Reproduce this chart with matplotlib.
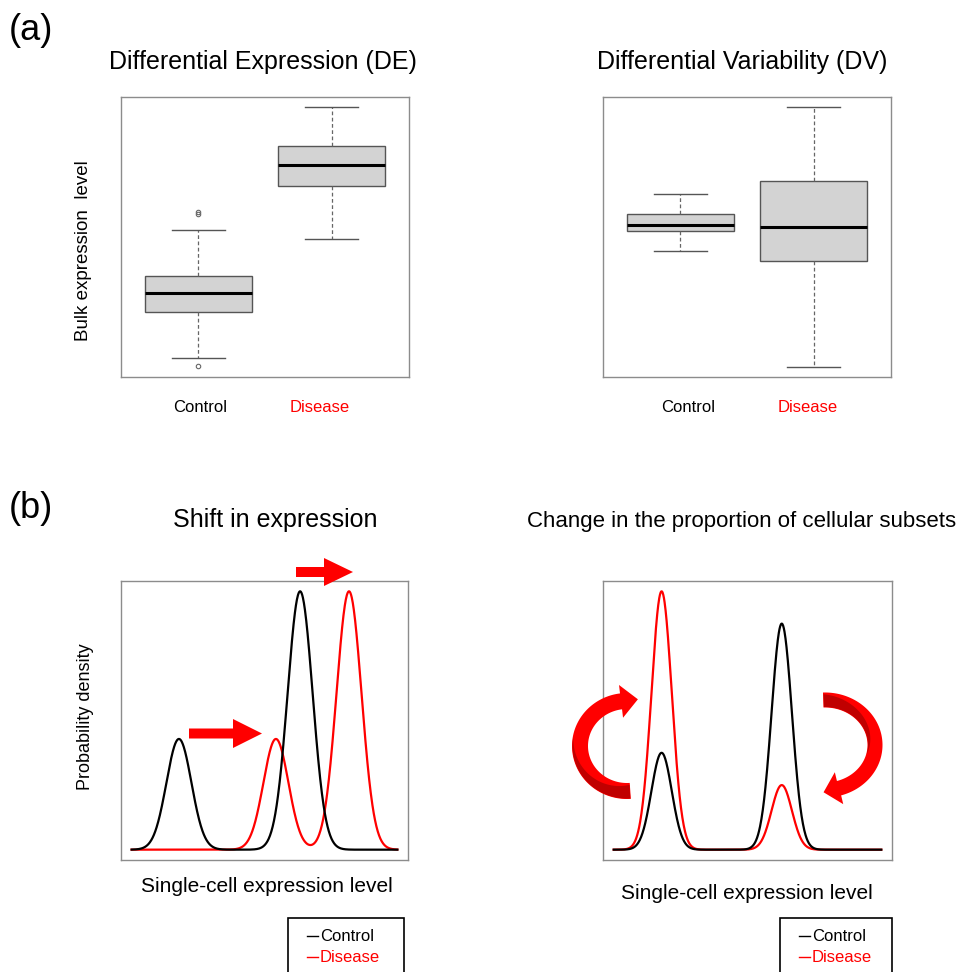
import numpy as np
import matplotlib
matplotlib.use("Agg")
import matplotlib.pyplot as plt
from matplotlib.patches import Polygon, FancyArrow, Rectangle

plt.rcParams['font.family'] = ['Liberation Sans', 'DejaVu Sans']

W, H = 957, 972

# ---------------- data ----------------
groups = ["Control", "Disease"]
group_colors = ["black", "red"]

# (a) DE boxplot stats: whislo, q1, med, q3, whishi, fliers
de_stats = [
    dict(whislo=0.68, q1=2.32, med=3.00, q3=3.61, whishi=5.25, fliers=[5.89, 5.82, 0.39]),
    dict(whislo=4.93, q1=6.82, med=7.57, q3=8.25, whishi=9.64, fliers=[]),
]
# (a) DV boxplot stats
dv_stats = [
    dict(whislo=4.50, q1=5.21, med=5.43, q3=5.82, whishi=6.54, fliers=[]),
    dict(whislo=0.36, q1=4.14, med=5.36, q3=7.00, whishi=9.64, fliers=[]),
]

# (b) mixture components: means, weights, sd
shift_ctrl_means = [1.78, 6.34]
shift_ctrl_weights = [0.3, 0.7]
shift_dis_means = [5.43, 8.18]
shift_dis_weights = [0.3, 0.7]
shift_sd = 0.47

prop_ctrl_means = [1.79, 6.28]
prop_ctrl_weights = [0.3, 0.7]
prop_dis_means = [1.79, 6.28]
prop_dis_weights = [0.8, 0.2]
prop_sd = 0.38


def px_rect(x0, y0, x1, y1):
    return [x0 / W, 1 - y1 / H, (x1 - x0) / W, (y1 - y0) / H]


fig = plt.figure(figsize=(W / 100, H / 100), dpi=100)

FRAME = '#8c8c8c'


def style_frame(ax):
    ax.set_xticks([])
    ax.set_yticks([])
    for s in ax.spines.values():
        s.set_color(FRAME)
        s.set_linewidth(1.0)


def boxpanel(rect, stats):
    ax = fig.add_axes(rect)
    for st, lab in zip(stats, groups):
        st['label'] = lab
    ax.bxp(stats, positions=[1, 2], widths=0.8, capwidths=0.4, patch_artist=True,
           showfliers=True,
           boxprops=dict(facecolor='#d3d3d3', edgecolor='#555555', linewidth=1.0),
           medianprops=dict(color='black', linewidth=2.2),
           whiskerprops=dict(color='#666666', linewidth=0.9, linestyle=(0, (3, 2))),
           capprops=dict(color='#555555', linewidth=1.0),
           flierprops=dict(marker='o', markerfacecolor='none', markeredgecolor='#666666',
                           markersize=3.2, markeredgewidth=0.8))
    ax.set_xlim(0.42, 2.58)
    ax.set_ylim(0, 10)
    style_frame(ax)
    return ax


def mixture(x, means, weights, sd):
    y = np.zeros_like(x)
    for m, w in zip(means, weights):
        y += w * np.exp(-0.5 * ((x - m) / sd) ** 2) / (sd * np.sqrt(2 * np.pi))
    return y


def densitypanel(rect, cm, cw, dm, dw, sd):
    ax = fig.add_axes(rect)
    x = np.linspace(0, 10, 800)
    yc = mixture(x, cm, cw, sd)
    yd = mixture(x, dm, dw, sd)
    ax.plot(x, yd, color='red', lw=1.6)
    ax.plot(x, yc, color='black', lw=1.6)
    ymax = max(yc.max(), yd.max())
    ax.set_xlim(-0.4, 10.4)
    ax.set_ylim(-0.04 * ymax, 1.04 * ymax)
    style_frame(ax)
    return ax


boxpanel(px_rect(121, 97, 409, 377), de_stats)
boxpanel(px_rect(603, 97, 891, 377), dv_stats)
densitypanel(px_rect(121, 581, 408, 860), shift_ctrl_means, shift_ctrl_weights,
             shift_dis_means, shift_dis_weights, shift_sd)
densitypanel(px_rect(603, 581, 892, 860), prop_ctrl_means, prop_ctrl_weights,
             prop_dis_means, prop_dis_weights, prop_sd)

# ---------------- overlay for text & decorations (pixel coords) ----------------
ov = fig.add_axes([0, 0, 1, 1], zorder=10)
ov.set_xlim(0, W)
ov.set_ylim(H, 0)
ov.axis('off')
ov.patch.set_alpha(0)

ov.text(9, 30, "(a)", fontsize=26, ha='left', va='center')
ov.text(9, 508, "(b)", fontsize=26, ha='left', va='center')

ov.text(263, 62, "Differential Expression (DE)", fontsize=18, ha='center', va='center')
ov.text(742, 62, "Differential Variability (DV)", fontsize=18, ha='center', va='center')
ov.text(275, 520, "Shift in expression", fontsize=18, ha='center', va='center')
ov.text(742, 521, "Change in the proportion of cellular subsets", fontsize=16,
        ha='center', va='center')

ov.text(83, 251, "Bulk expression  level", fontsize=13.5, rotation=90, ha='center', va='center')
ov.text(86, 717, "Probability density", fontsize=13, rotation=90, ha='center', va='center')

for cx, lab, col in zip([200, 320], groups, group_colors):
    ov.text(cx, 407, lab, fontsize=12, color=col, ha='center', va='center')
for cx, lab, col in zip([688, 808], groups, group_colors):
    ov.text(cx, 407, lab, fontsize=12, color=col, ha='center', va='center')

ov.text(267, 886, "Single-cell expression level", fontsize=15, ha='center', va='center')
ov.text(747, 893, "Single-cell expression level", fontsize=15, ha='center', va='center')

# legends
for (bx0, bx1, lx0, lx1, tx) in [(288, 404, 307, 318, 320), (780, 892, 799, 810, 812)]:
    ov.add_patch(Rectangle((bx0, 918), bx1 - bx0, 70, facecolor='white',
                           edgecolor='black', lw=1.2, clip_on=True))
    for yy, lab, col in zip([936, 957], groups, group_colors):
        ov.plot([lx0, lx1], [yy, yy], color=col, lw=1.0)
        ov.text(tx, yy, lab, fontsize=12, color=col, ha='left', va='center')

# straight arrows
RED = '#ff0000'
DARK = '#c00000'
ov.add_patch(FancyArrow(189, 733.5, 73, 0, width=10, head_width=29, head_length=29,
                        length_includes_head=True, color=RED, lw=0))
ov.add_patch(FancyArrow(296, 572, 57, 0, width=10, head_width=28, head_length=29,
                        length_includes_head=True, color=RED, lw=0))


def curved_arrow(cx, cy, rx, ry, thick, th0, th1, head_len, head_w,
                 dark_side, dark_t0, dark_t1):
    t = np.radians(np.linspace(th0, th1, 200))
    ox = cx + (rx + thick / 2) * np.cos(t)
    oy = cy + (ry + thick / 2) * np.sin(t)
    ix = cx + (rx - thick / 2) * np.cos(t)
    iy = cy + (ry - thick / 2) * np.sin(t)
    te = np.radians(th1)
    P = np.array([cx + rx * np.cos(te), cy + ry * np.sin(te)])
    sgn = np.sign(th1 - th0)
    T = sgn * np.array([-rx * np.sin(te), ry * np.cos(te)])
    T /= np.linalg.norm(T)
    N = np.array([ry * np.cos(te), rx * np.sin(te)])
    N /= np.linalg.norm(N)
    b1 = P + N * head_w / 2
    b2 = P - N * head_w / 2
    tip = P + T * head_len
    pts = np.vstack([np.column_stack([ox, oy]), b1, tip, b2,
                     np.column_stack([ix, iy])[::-1]])
    ov.add_patch(Polygon(pts, closed=True, facecolor=RED, edgecolor='none'))
    # darker shading (ribbon side)
    td = np.radians(np.linspace(dark_t0, dark_t1, 120))
    frac = np.linspace(0.85, 0.0, 120)
    if dark_side == 'outer':
        r1x = rx + thick / 2 - 0.5
        r1y = ry + thick / 2 - 0.5
        r2x = r1x - thick * frac
        r2y = r1y - thick * frac
    else:
        r1x = rx - thick / 2 + 0.5
        r1y = ry - thick / 2 + 0.5
        r2x = r1x + thick * frac
        r2y = r1y + thick * frac
    a = np.column_stack([cx + r1x * np.cos(td), cy + r1y * np.sin(td)])
    b = np.column_stack([cx + r2x * np.cos(td), cy + r2y * np.sin(td)])
    ov.add_patch(Polygon(np.vstack([a, b[::-1]]), closed=True, facecolor=DARK,
                         edgecolor='none'))


curved_arrow(627, 746, 47, 45, 16, 86, 262.7, 17, 33, 'outer', 86.5, 190)
curved_arrow(825, 745, 50, 45, 15, -92, 73.7, 16, 33, 'inner', -91.5, 15)

fig.savefig("out.png", dpi=100)
